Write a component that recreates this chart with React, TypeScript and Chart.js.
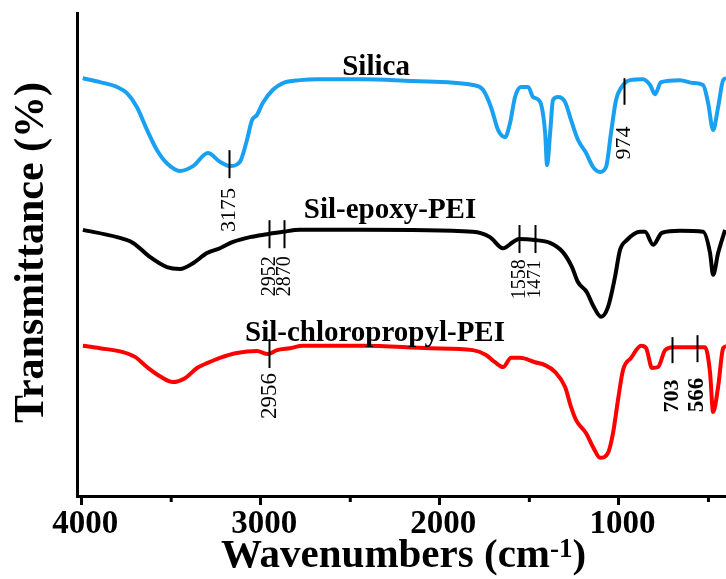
import React, { useEffect, useRef } from 'react';
import { Chart, registerables } from 'chart.js';

Chart.register(...registerables);

// ---- Data (wavenumber in cm^-1, transmittance in arbitrary offset %) ----
const silicaWavenumber = [3994, 3898, 3803, 3747, 3691, 3635, 3579, 3524, 3451, 3378, 3295, 3228, 3172, 3116, 3077, 3049, 3021, 2988, 2932, 2876, 2781, 2686, 2429, 2150, 1815, 1759, 1714, 1675, 1636, 1608, 1580, 1547, 1507, 1479, 1440, 1412, 1401, 1384, 1368, 1340, 1301, 1267, 1228, 1183, 1144, 1105, 1072, 1044, 1016, 988, 938, 865, 826, 798, 765, 659, 586, 530, 502, 474, 446, 418, 401];
const silicaTransmittance = [86.5, 85.7, 84.7, 83.4, 80.5, 75.8, 71.6, 68.9, 67.3, 68.3, 71.0, 69.2, 68.3, 69.2, 73.7, 77.8, 78.9, 81.4, 84.1, 85.5, 86.1, 86.3, 86.3, 85.9, 85.1, 84.1, 80.5, 75.8, 74.3, 77.2, 82.6, 84.7, 84.7, 82.6, 81.6, 75.2, 68.5, 75.2, 82.0, 82.6, 81.6, 77.8, 73.7, 71.0, 68.1, 67.1, 68.1, 75.2, 82.0, 84.5, 86.1, 86.3, 85.1, 83.2, 85.7, 86.1, 85.5, 85.1, 81.4, 75.8, 80.5, 86.1, 86.5];

const epoxyWavenumber = [3993, 3803, 3713, 3619, 3524, 3451, 3378, 3300, 3228, 3155, 3060, 2965, 2876, 2781, 2429, 1815, 1720, 1647, 1591, 1558, 1469, 1385, 1313, 1262, 1229, 1179, 1145, 1100, 1061, 1022, 994, 955, 882, 854, 809, 759, 659, 530, 491, 474, 446, 407];
const epoxyTransmittance = [55.1, 53.6, 52.4, 49.5, 47.4, 47.0, 48.2, 50.3, 51.3, 52.6, 53.6, 54.2, 54.7, 55.1, 55.1, 54.7, 53.6, 51.3, 52.6, 53.2, 53.0, 52.4, 50.5, 47.4, 44.3, 42.2, 39.5, 37.1, 39.1, 45.3, 50.9, 53.0, 54.7, 54.7, 52.0, 54.5, 54.9, 54.7, 50.3, 45.8, 50.3, 55.1];

const chloroWavenumber = [3993, 3898, 3769, 3702, 3635, 3563, 3490, 3423, 3356, 3300, 3228, 3133, 3021, 2960, 2909, 2837, 2764, 2429, 2055, 1815, 1742, 1692, 1647, 1602, 1552, 1469, 1412, 1357, 1301, 1267, 1239, 1183, 1144, 1105, 1061, 1033, 1005, 977, 932, 876, 848, 815, 781, 742, 697, 569, 519, 491, 474, 446, 418, 401];
const chloroTransmittance = [31.1, 30.6, 29.8, 28.8, 26.7, 24.8, 23.6, 24.4, 26.5, 27.5, 28.6, 29.6, 30.0, 29.4, 30.2, 30.6, 31.1, 31.1, 30.6, 30.2, 29.2, 27.7, 26.7, 28.6, 28.6, 27.7, 27.1, 25.7, 22.6, 18.4, 15.7, 13.0, 10.1, 7.9, 8.9, 13.0, 19.9, 26.1, 28.6, 31.1, 30.6, 26.5, 26.7, 30.2, 30.8, 30.8, 30.8, 25.5, 17.4, 22.6, 30.6, 31.0];

const seriesNames = ['Silica', 'Sil-epoxy-PEI', 'Sil-chloropropyl-PEI'];
const seriesNameWavenumber = [2356, 2278, 2362];
const seriesNameTransmittance = [87.2, 57.6, 32.1];

const majorTicks = [4000, 3000, 2000, 1000];
const minorTicks = [3500, 2500, 1500, 500];

const peakWavenumber = [3175, 2952, 2870, 1558, 1471, 974, 2956, 703, 566];
const peakMarkTop = [71.6, 57.1, 57.1, 56.1, 56.1, 86.5, 32.5, 32.9, 33.3];
const peakMarkBottom = [65.8, 51.3, 51.3, 50.3, 50.3, 81.0, 26.5, 27.5, 27.7];
const peakLabelCenter = [59.2, 45.5, 45.5, 44.9, 44.9, 73.1, 20.7, 20.7, 20.9];

// ---- Styles ----
const FONT = "'Liberation Serif', 'Times New Roman', serif";
const peakFontSize = [22, 20, 20, 20, 19, 22, 23, 22, 23];
const peakBold = [false, false, false, false, false, false, false, true, true];

const pts = (xs: number[], ys: number[]) => xs.map((x, i) => ({ x, y: ys[i] }));

export default function App() {
  const ref = useRef<HTMLCanvasElement | null>(null);

  useEffect(() => {
    if (!ref.current) return;

    const annotPlugin = {
      id: 'annot',
      afterDraw(chart: any) {
        const { ctx, chartArea } = chart;
        const xs = chart.scales.x;
        const ys = chart.scales.y;
        ctx.save();
        ctx.fillStyle = '#000';
        ctx.strokeStyle = '#000';

        // minor ticks
        ctx.lineWidth = 3;
        minorTicks.forEach((v) => {
          const px = xs.getPixelForValue(v);
          ctx.beginPath();
          ctx.moveTo(px, chartArea.bottom);
          ctx.lineTo(px, chartArea.bottom + 6);
          ctx.stroke();
        });

        // series names
        ctx.font = `bold 29px ${FONT}`;
        ctx.textAlign = 'center';
        ctx.textBaseline = 'alphabetic';
        seriesNames.forEach((n, i) => {
          ctx.fillText(n, xs.getPixelForValue(seriesNameWavenumber[i]), ys.getPixelForValue(seriesNameTransmittance[i]));
        });

        // peak markers
        ctx.lineWidth = 2;
        peakWavenumber.forEach((w, i) => {
          const px = Math.round(xs.getPixelForValue(w)) + 0.5;
          ctx.beginPath();
          ctx.moveTo(px, ys.getPixelForValue(peakMarkTop[i]));
          ctx.lineTo(px, ys.getPixelForValue(peakMarkBottom[i]));
          ctx.stroke();
          ctx.save();
          ctx.translate(px, ys.getPixelForValue(peakLabelCenter[i]));
          ctx.rotate(-Math.PI / 2);
          ctx.font = `${peakBold[i] ? 'bold ' : ''}${peakFontSize[i]}px ${FONT}`;
          ctx.textAlign = 'center';
          ctx.textBaseline = 'middle';
          ctx.fillText(String(w), 0, 0);
          ctx.restore();
        });

        // x title with superscript
        const cx = (chartArea.left + chartArea.right) / 2 + 2;
        const base = 567;
        const p1 = 'Wavenumbers (cm';
        const p2 = '-1';
        const p3 = ')';
        ctx.textAlign = 'left';
        ctx.textBaseline = 'alphabetic';
        ctx.font = `bold 41px ${FONT}`;
        const w1 = ctx.measureText(p1).width;
        const w3 = ctx.measureText(p3).width;
        ctx.font = `bold 27px ${FONT}`;
        const w2 = ctx.measureText(p2).width;
        let sx = cx - (w1 + w2 + w3) / 2;
        ctx.font = `bold 41px ${FONT}`;
        ctx.fillText(p1, sx, base);
        sx += w1;
        ctx.font = `bold 27px ${FONT}`;
        ctx.fillText(p2, sx, base - 10);
        sx += w2;
        ctx.font = `bold 41px ${FONT}`;
        ctx.fillText(p3, sx, base);

        // y title
        ctx.save();
        ctx.translate(43, (chartArea.top + chartArea.bottom) / 2 - 2);
        ctx.rotate(-Math.PI / 2);
        ctx.font = `bold 42px ${FONT}`;
        ctx.textAlign = 'center';
        ctx.textBaseline = 'alphabetic';
        ctx.fillText('Transmittance (%)', 0, 0);
        ctx.restore();

        ctx.restore();
      },
    };

    const chart = new Chart(ref.current, {
      type: 'line',
      data: {
        datasets: [
          { label: seriesNames[0], data: pts(silicaWavenumber, silicaTransmittance), borderColor: '#1AA0F0', borderWidth: 4, pointRadius: 0, fill: false, cubicInterpolationMode: 'monotone' },
          { label: seriesNames[1], data: pts(epoxyWavenumber, epoxyTransmittance), borderColor: '#000000', borderWidth: 4, pointRadius: 0, fill: false, cubicInterpolationMode: 'monotone' },
          { label: seriesNames[2], data: pts(chloroWavenumber, chloroTransmittance), borderColor: '#FF0000', borderWidth: 4, pointRadius: 0, fill: false, cubicInterpolationMode: 'monotone' },
        ],
      },
      options: {
        responsive: false,
        animation: false,
        devicePixelRatio: 1,
        layout: { padding: { top: 13, right: 0, left: 0, bottom: 0 } },
        plugins: { legend: { display: false }, tooltip: { enabled: false }, title: { display: false } },
        scales: {
          x: {
            type: 'linear',
            reverse: true,
            min: 402,
            max: 4026,
            afterBuildTicks: (s: any) => {
              s.ticks = [...majorTicks, ...minorTicks].sort((a, b) => b - a).map((v) => ({ value: v }));
            },
            afterFit: (s: any) => { s.height = 83; },
            ticks: {
              autoSkip: false,
              maxRotation: 0,
              minRotation: 0,
              padding: 0,
              labelOffset: 3.5,
              color: '#000',
              font: { family: FONT, size: 33, weight: 'bold' },
              callback: (v: any) => (majorTicks.includes(Number(v)) ? String(v) : ''),
            },
            grid: {
              drawOnChartArea: false,
              drawTicks: true,
              tickLength: 9,
              tickWidth: 3,
              tickColor: (c: any) => (c.tick && majorTicks.includes(c.tick.value) ? '#000' : 'rgba(0,0,0,0)'),
            },
            border: { display: true, color: '#000', width: 3 },
          },
          y: {
            type: 'linear',
            min: 0,
            max: 100,
            afterFit: (s: any) => { s.width = 77; },
            ticks: { display: false },
            grid: { display: false, drawTicks: false },
            border: { display: true, color: '#000', width: 3 },
          },
        },
      } as any,
      plugins: [annotPlugin],
    });

    return () => chart.destroy();
  }, []);

  return (
    <div style={{ position: 'fixed', left: 0, top: 0, width: 726, height: 579, background: '#fff' }}>
      <canvas ref={ref} width={726} height={579} style={{ display: 'block' }} />
    </div>
  );
}
